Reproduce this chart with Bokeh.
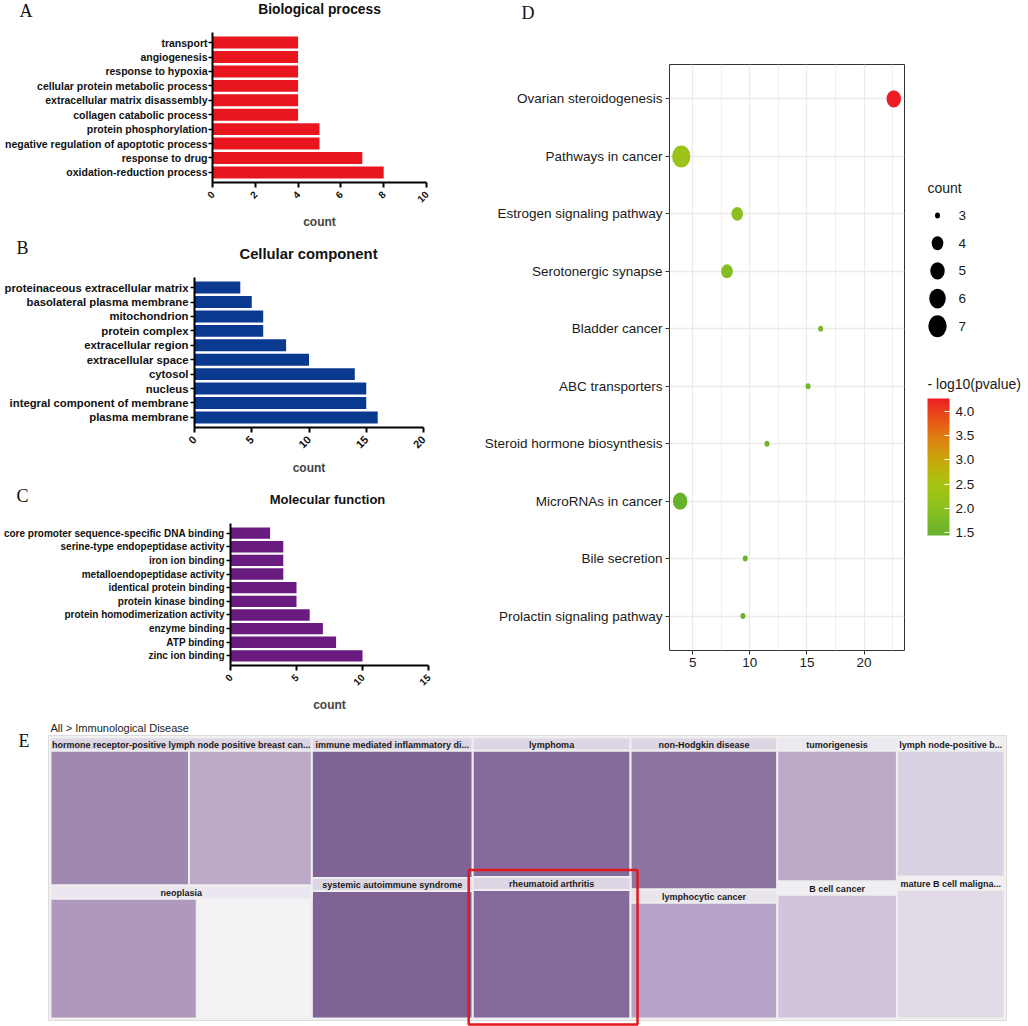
import numpy as np
from bokeh.plotting import figure
from bokeh.models import (FactorRange, Range1d, FixedTicker, ColumnDataSource,
                          LinearColorMapper, ColorBar)
from bokeh.layouts import row, column
from bokeh.embed import file_html
from bokeh.resources import INLINE
from bokeh.core.properties import value

# ---------------- data ----------------
bp_terms = ["transport", "angiogenesis", "response to hypoxia", "cellular protein metabolic process",
            "extracellular matrix disassembly", "collagen catabolic process", "protein phosphorylation",
            "negative regulation of apoptotic process", "response to drug", "oxidation-reduction process"]
bp_counts = [4, 4, 4, 4, 4, 4, 5, 5, 7, 8]

cc_terms = ["proteinaceous extracellular matrix", "basolateral plasma membrane", "mitochondrion",
            "protein complex", "extracellular region", "extracellular space", "cytosol", "nucleus",
            "integral component of membrane", "plasma membrane"]
cc_counts = [4, 5, 6, 6, 8, 10, 14, 15, 15, 16]

mf_terms = ["core promoter sequence-specific DNA binding", "serine-type endopeptidase activity",
            "iron ion binding", "metalloendopeptidase activity", "identical protein binding",
            "protein kinase binding", "protein homodimerization activity", "enzyme binding",
            "ATP binding", "zinc ion binding"]
mf_counts = [3, 4, 4, 4, 5, 5, 6, 7, 8, 10]

kegg_terms = ["Ovarian steroidogenesis", "Pathways in cancer", "Estrogen signaling pathway",
              "Serotonergic synapse", "Bladder cancer", "ABC transporters",
              "Steroid hormone biosynthesis", "MicroRNAs in cancer", "Bile secretion",
              "Prolactin signaling pathway"]
kegg_x = [22.6, 4.0, 8.9, 8.0, 16.2, 15.1, 11.5, 3.9, 9.6, 9.4]
kegg_count = [5, 7, 4, 4, 3, 3, 3, 5, 3, 3]
kegg_logp = [4.27, 2.3, 2.0, 1.9, 1.7, 1.65, 1.6, 1.44, 1.55, 1.55]
size_legend = [3, 4, 5, 6, 7]
logp_ticks = [1.5, 2.0, 2.5, 3.0, 3.5, 4.0]

tm_names = ["hormone receptor-positive lymph node positive breast can...", "neoplasia",
            "immune mediated inflammatory di...", "systemic autoimmune syndrome",
            "lymphoma", "rheumatoid arthritis",
            "non-Hodgkin disease", "lymphocytic cancer",
            "tumorigenesis", "B cell cancer",
            "lymph node-positive b...", "mature B cell maligna..."]
tm_values = [13.7, 12.3, 8.0, 8.0, 7.8, 7.9, 7.9, 6.7, 6.1, 5.8, 5.3, 5.4]
tm_child_share = [0.53, 0.56, 1, 1, 1, 1, 1, 1, 1, 1, 1, 1]
tm_colors = ["#9f89b0", "#ae99bd", "#7f6397", "#7f6397", "#84699d", "#84699d",
             "#8c76a0", "#b4a3c6", "#bba9c7", "#d2c4dc", "#d9d0e1", "#e2dbe7"]
tm_child_colors = ["#bcaac8", "#f4f2f5", None, None, None, None, None, None, None, None, None, None]
tm_header_colors = ["#ddd5e3", "#ebe6ef", "#ddd5e3", "#ddd5e3", "#ddd5e3", "#ddd5e3",
                    "#ddd5e3", "#e9e4ee", "#ece8f0", "#f0eef3", "#f0eef3", "#f1eff4"]
tm_highlight = "rheumatoid arthritis"

SANS = "Liberation Sans"
SERIF = "Liberation Serif"


def no_align(p):
    if "frame_align" in p.properties():
        p.frame_align = False
    return p


def header(W, H, items):
    h = figure(width=W, height=H, x_range=Range1d(0, W), y_range=Range1d(H, 0),
               output_backend="svg", toolbar_location=None, min_border=0,
               x_axis_type=None, y_axis_type=None)
    h.outline_line_color = None
    h.grid.grid_line_color = None
    for (x, y, txt, font, size, style, align) in items:
        h.text(x=[x], y=[y], text=[txt], text_font=value(font), text_font_size=size,
               text_font_style=style, text_align=align, text_baseline="middle",
               text_color="#111111")
    return no_align(h)


def bar_panel(terms, counts, color, xmax, xstep, W, H, fl, fr, ft, fb, lab_size, tick_size,
              standoff):
    p = figure(width=W, height=H, x_range=Range1d(0, xmax),
               y_range=FactorRange(factors=terms[::-1], range_padding=0.2,
                                   range_padding_units="absolute"),
               output_backend="svg", toolbar_location=None,
               min_border_left=fl, min_border_right=W - fr, min_border_top=ft,
               min_border_bottom=H - fb)
    no_align(p)
    p.outline_line_color = None
    p.grid.grid_line_color = None
    src = ColumnDataSource(dict(term=terms, count=counts))
    p.hbar(y="term", left=0, right="count", height=0.83, fill_color=color,
           line_color=None, source=src)
    ax = p.xaxis[0]
    ax.ticker = FixedTicker(ticks=list(range(0, xmax + 1, xstep)))
    ax.major_label_orientation = np.pi / 4
    ax.axis_line_width = 2
    ax.axis_line_color = "black"
    ax.major_tick_line_width = 2
    ax.major_tick_out = 5
    ax.major_tick_in = 0
    ax.minor_tick_line_color = None
    ax.major_label_text_font = SANS
    ax.major_label_text_font_style = "bold"
    ax.major_label_text_font_size = tick_size
    ax.major_label_text_color = "#111111"
    ax.axis_label = "count"
    ax.axis_label_text_font = SANS
    ax.axis_label_text_font_style = "bold"
    ax.axis_label_text_font_size = "12px"
    ax.axis_label_standoff = 6
    ay = p.yaxis[0]
    ay.axis_line_width = 2
    ay.axis_line_color = "black"
    ay.major_tick_line_width = 1.5
    ay.major_tick_out = 4
    ay.major_tick_in = 0
    ay.major_label_standoff = standoff
    ay.major_label_text_font = SANS
    ay.major_label_text_font_style = "bold"
    ay.major_label_text_font_size = lab_size
    ay.major_label_text_color = "#111111"
    return p


hA = header(470, 22, [(19, 10, "A", SERIF, "18px", "normal", "left"),
                      (319, 9, "Biological process", SANS, "13.8px", "bold", "center")])
pA = bar_panel(bp_terms, bp_counts, "#e8161e", 10, 2, 470, 215, 212, 426, 10, 160,
               "10.5px", "10px", 1)
hB = header(470, 28, [(16, 10, "B", SERIF, "18px", "normal", "left"),
                      (308, 16, "Cellular component", SANS, "14.8px", "bold", "center")])
pB = bar_panel(cc_terms, cc_counts, "#0a3a8f", 20, 5, 470, 217, 194, 423, 12, 162,
               "11.3px", "11px", 2)
hC = header(470, 30, [(16, 13, "C", SERIF, "18px", "normal", "left"),
                      (327, 17, "Molecular function", SANS, "13px", "bold", "center")])
pC = bar_panel(mf_terms, mf_counts, "#6a1b80", 15, 5, 470, 203, 227, 428, 11, 160,
               "10px", "10px", 2)

# ---------------- D: KEGG bubble ----------------
stops_v = [1.44, 2.0, 2.5, 3.0, 3.5, 4.0, 4.27]
stops_c = ["#66b22c", "#8cc020", "#a8c512", "#c8a80a", "#e07a12", "#ea421b", "#ee1c24"]


def hex2rgb(h):
    return [int(h[i:i + 2], 16) for i in (1, 3, 5)]


vals = np.linspace(stops_v[0], stops_v[-1], 256)
rgb = np.array([hex2rgb(c) for c in stops_c])
palette = []
for v in vals:
    r = np.interp(v, stops_v, rgb[:, 0])
    g = np.interp(v, stops_v, rgb[:, 1])
    b = np.interp(v, stops_v, rgb[:, 2])
    palette.append("#%02x%02x%02x" % (int(round(r)), int(round(g)), int(round(b))))
mapper = LinearColorMapper(palette=palette, low=stops_v[0], high=stops_v[-1])


def dot_w(c):
    return 5 + 13.3 * np.sqrt((np.asarray(c, dtype=float) - 3) / 4)


hD = header(558, 30, [(51, 12, "D", SERIF, "18px", "normal", "left")])

pD = figure(width=445, height=685, x_range=Range1d(2.97, 23.54),
            y_range=FactorRange(factors=kegg_terms[::-1], range_padding=0.1,
                                range_padding_units="absolute"),
            output_backend="svg", toolbar_location=None,
            min_border_left=199, min_border_right=11, min_border_top=34, min_border_bottom=65)
no_align(pD)
pD.outline_line_color = "#333333"
pD.outline_line_width = 1
wD = dot_w(kegg_count)
srcD = ColumnDataSource(dict(term=kegg_terms, x=kegg_x, lp=kegg_logp, w=wD, h=wD * 1.2))
pD.ellipse(x="x", y="term", width="w", height="h", width_units="screen", height_units="screen",
           fill_color={"field": "lp", "transform": mapper}, line_color=None, source=srcD)
pD.xaxis.ticker = FixedTicker(ticks=[5, 10, 15, 20], minor_ticks=[2.5, 7.5, 12.5, 17.5, 22.5])
pD.xgrid.grid_line_color = "#ebebeb"
pD.xgrid.grid_line_width = 1.2
pD.xgrid.minor_grid_line_color = "#f0f0f0"
pD.xgrid.minor_grid_line_width = 1
pD.ygrid.grid_line_color = "#ebebeb"
pD.ygrid.grid_line_width = 1.4
for ax in (pD.xaxis[0], pD.yaxis[0]):
    ax.axis_line_color = None
    ax.major_tick_line_color = "#333333"
    ax.major_tick_out = 4
    ax.major_tick_in = 0
    ax.minor_tick_line_color = None
    ax.major_label_text_font = SANS
    ax.major_label_text_font_size = "13.5px"
    ax.major_label_text_color = "#1a1a1a"
    ax.major_label_standoff = 3

# ---------------- legends for D ----------------
pL = figure(width=113, height=685, x_range=Range1d(0, 113), y_range=Range1d(650, 64),
            output_backend="svg", toolbar_location=None, min_border_left=0, min_border_right=0,
            min_border_top=34, min_border_bottom=65, x_axis_type=None, y_axis_type=None)
no_align(pL)
pL.outline_line_color = None
pL.grid.grid_line_color = None
ly = [215 + i * 27.7 for i in range(len(size_legend))]
wl = dot_w(size_legend)
pL.text(x=[12, 12], y=[187, 383], text=["count", "- log10(pvalue)"], text_font=value(SANS),
        text_font_size="14px", text_baseline="middle", text_color="#1a1a1a")
pL.ellipse(x=[22] * len(size_legend), y=ly, width=wl, height=wl * 1.2,
           width_units="screen", height_units="screen", fill_color="black", line_color=None)
pL.text(x=[43] * len(size_legend), y=ly, text=[str(s) for s in size_legend],
        text_font=value(SANS), text_font_size="13.5px", text_baseline="middle",
        text_color="#1a1a1a")
cb = ColorBar(color_mapper=mapper, location=(12, 115), width=22, height=137, padding=0,
              ticker=FixedTicker(ticks=logp_ticks), major_label_text_font=SANS,
              major_label_text_font_size="13.5px", label_standoff=6,
              major_label_text_color="#1a1a1a",
              major_tick_line_color="white", major_tick_in=5, major_tick_out=0,
              minor_tick_line_color=None, bar_line_color=None, border_line_color=None,
              background_fill_color=None)
cb.major_label_overrides = {t: "%.1f" % t for t in logp_ticks}
pL.add_layout(cb, "center")

# ---------------- E: treemap ----------------
pE = figure(width=1028, height=311, x_range=Range1d(0, 1028), y_range=Range1d(311, 0),
            output_backend="svg", toolbar_location=None, min_border=0,
            x_axis_type=None, y_axis_type=None)
no_align(pE)
pE.outline_line_color = None
pE.grid.grid_line_color = None
X0, X1, Y0, Y1, HEAD = 50, 1004, 22, 303, 13
total = sum(tm_values)
cells = []
xc = X0
for k in range(0, len(tm_values), 2):
    colv = tm_values[k] + tm_values[k + 1]
    cw = (X1 - X0) * colv / total
    ysplit = Y0 + (Y1 - Y0) * tm_values[k] / colv
    cells.append((xc, xc + cw, Y0, ysplit))
    cells.append((xc, xc + cw, ysplit, Y1))
    xc += cw

q = dict(l=[], r=[], t=[], b=[], c=[])
hq = dict(l=[], r=[], t=[], b=[], c=[])
tx, ty, tt = [], [], []
for i, (l, r, t, b) in enumerate(cells):
    hq["l"].append(l); hq["r"].append(r); hq["t"].append(t); hq["b"].append(t + HEAD)
    hq["c"].append(tm_header_colors[i])
    share = tm_child_share[i]
    xm = l + (r - l) * share
    q["l"].append(l); q["r"].append(xm); q["t"].append(t + HEAD); q["b"].append(b)
    q["c"].append(tm_colors[i])
    if share < 1:
        q["l"].append(xm); q["r"].append(r); q["t"].append(t + HEAD); q["b"].append(b)
        q["c"].append(tm_child_colors[i])
    tx.append((l + r) / 2); ty.append(t + HEAD / 2 + 0.5); tt.append(tm_names[i])

pE.quad(left=X0 - 2, right=X1 + 2, top=Y0 - 2, bottom=Y1 + 2, fill_color="#f4f4f4",
        line_color="#dcdcdc", line_width=1)
pE.quad(left="l", right="r", top="t", bottom="b", fill_color="c", line_color="#eeeeee",
        line_width=2, source=ColumnDataSource(q))
pE.quad(left="l", right="r", top="t", bottom="b", fill_color="c", line_color="#eeeeee",
        line_width=2, source=ColumnDataSource(hq))
pE.text(x=tx, y=ty, text=tt, text_font=value(SANS), text_font_size="9px",
        text_font_style="bold", text_align="center", text_baseline="middle",
        text_color="#1a1a1a")
hi = tm_names.index(tm_highlight)
hl, hr, ht, hb = cells[hi]
pE.quad(left=hl - 4, right=hr + 7, top=ht - 7, bottom=hb + 6, fill_color=None,
        line_color="#e0191f", line_width=2.5)
pE.text(x=[X0], y=[12], text=["All > Immunological Disease"], text_font=value(SANS),
        text_font_size="11px", text_baseline="middle", text_color="#222222")
pE.text(x=[18], y=[25], text=["E"], text_font=value(SERIF), text_font_size="18px",
        text_baseline="middle", text_color="#111111")

left_col = column(hA, pA, hB, pB, hC, pC)
right_col = column(hD, row(pD, pL))
layout = column(row(left_col, right_col), pE)
open("out.html", "w").write(file_html(layout, INLINE))
